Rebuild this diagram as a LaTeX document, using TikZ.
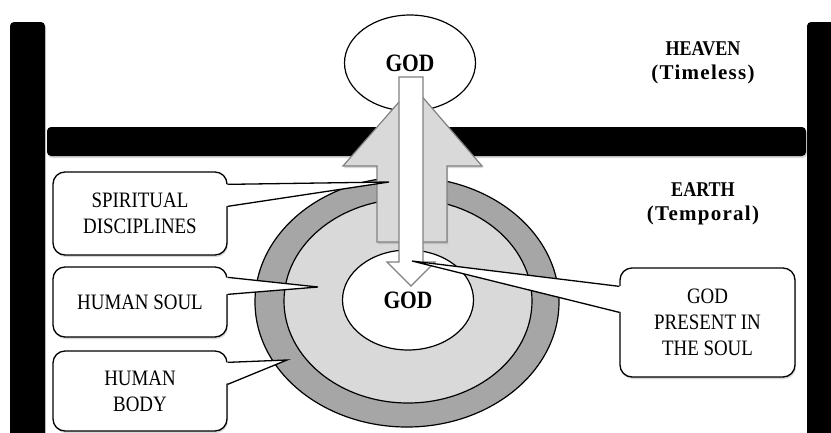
\documentclass[tikz,border=0pt]{standalone}
\usepackage{fontspec}
\setmainfont[FakeStretch=0.86]{Liberation Serif}
\newfontfamily\headwide[LetterSpace=6]{Liberation Serif}
\usetikzlibrary{shapes.geometric,shadows}
\definecolor{ringdark}{HTML}{A6A6A6}
\definecolor{ringlight}{HTML}{D9D9D9}
\definecolor{arrowline}{HTML}{808080}

\begin{document}
\begin{tikzpicture}[x=1pt,y=-1pt,
    bar/.style={fill=black,rounded corners=4pt,
      drop shadow={opacity=0.3,shadow xshift=1pt,shadow yshift=-2pt}},
    callbox/.style={draw,fill=white,line width=1.3pt,rounded corners=12pt,
      align=center,font=\fontsize{22}{26}\selectfont,inner sep=0pt,
      drop shadow={opacity=0.3,shadow xshift=1pt,shadow yshift=-2pt}},
    godnode/.style={ellipse,draw,fill=white,line width=1.2pt,inner sep=0pt,
      font=\bfseries\fontsize{25}{28}\selectfont},
    heading/.style={align=center,font=\bfseries\fontsize{21}{24}\selectfont},
    pointer/.style={line width=1.3pt,line join=miter}]
  \useasboundingbox (0,0) rectangle (831,432);
  \fill[white] (0,0) rectangle (831,432);
  % frame between heaven and earth
  \path[bar] (10,22) rectangle (45,445);
  \path[bar] (807,22) rectangle (845,445);
  \path[bar] (47,127) rectangle (806,156);
  \node[heading] (heaven) at (703,63) {HEAVEN\\{\headwide(Timeless)}};
  \node[heading] (earth) at (703,204) {EARTH\\{\headwide(Temporal)}};
  % body, soul and God within
  \draw[fill=ringdark,line width=1.2pt] (407,302) ellipse [x radius=152,y radius=125];
  \draw[fill=ringlight,line width=1.2pt] (408,301) ellipse [x radius=124,y radius=102];
  \node[godnode,minimum width=131,minimum height=100] (godsoul) at (408,300) {GOD};
  \node[godnode,minimum width=131,minimum height=96] (godtop) at (410,63) {GOD};
  % up and down arrows
  \filldraw[fill=ringlight,draw=arrowline,line width=1.2pt,
      drop shadow={opacity=0.3,shadow xshift=1pt,shadow yshift=-2pt}]
    (377,242) -- (377,166) -- (343,166) -- (413,86) -- (482,166)
    -- (447,166) -- (447,242) -- cycle;
  \filldraw[fill=white,draw=arrowline,line width=1.2pt]
    (399,77) -- (423,77) -- (423,262) -- (435,262) -- (411,286)
    -- (387,262) -- (399,262) -- cycle;
  % callouts
  \node[callbox,minimum width=174,minimum height=83] (disc) at (140,213.5) {SPIRITUAL\\DISCIPLINES};
  \coordinate (disctip) at (389,182);
  \fill[white] ([shift={(-3pt,-13pt)}]disc.north east) -- (disctip)
    -- ([shift={(-3pt,-35pt)}]disc.north east) -- cycle;
  \draw[pointer] ([yshift=-13pt]disc.north east) -- (disctip) -- ([yshift=-35pt]disc.north east);

  \node[callbox,minimum width=174,minimum height=70] (soul) at (140,302) {HUMAN SOUL};
  \coordinate (soultip) at (318,287);
  \fill[white] ([shift={(-3pt,-11pt)}]soul.north east) -- (soultip)
    -- ([shift={(-3pt,-28pt)}]soul.north east) -- cycle;
  \draw[pointer] ([yshift=-11pt]soul.north east) -- (soultip) -- ([yshift=-28pt]soul.north east);

  \node[callbox,minimum width=174,minimum height=80] (body) at (140,391) {HUMAN\\BODY};
  \coordinate (bodytip) at (287,360);
  \fill[white] ([shift={(-3pt,-12pt)}]body.north east) -- (bodytip)
    -- ([shift={(-3pt,-34pt)}]body.north east) -- cycle;
  \draw[pointer] ([yshift=-12pt]body.north east) -- (bodytip) -- ([yshift=-34pt]body.north east);

  \node[callbox,minimum width=175,minimum height=109] (present) at (707.5,322.5) {GOD\\PRESENT IN\\THE SOUL};
  \coordinate (presenttip) at (412,261);
  \fill[white] ([shift={(3pt,-19pt)}]present.north west) -- (presenttip)
    -- ([shift={(3pt,-45pt)}]present.north west) -- cycle;
  \draw[pointer] ([yshift=-19pt]present.north west) -- (presenttip) -- ([yshift=-45pt]present.north west);
\end{tikzpicture}
\end{document}
